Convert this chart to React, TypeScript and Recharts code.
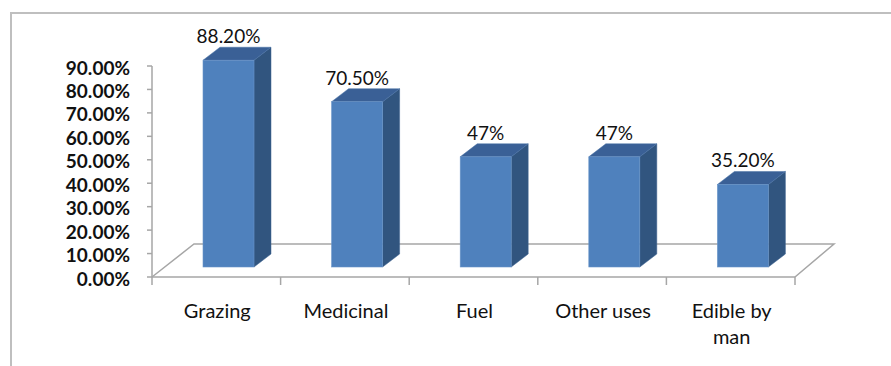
import React from "react";
import { BarChart, Bar, XAxis, YAxis, LabelList, Customized } from "recharts";

// Share of species by use
const CATEGORIES = ["Grazing", "Medicinal", "Fuel", "Other uses", "Edible by man"];
const VALUES = [0.882, 0.705, 0.47, 0.47, 0.352];
const VALUE_LABELS = ["88.20%", "70.50%", "47%", "47%", "35.20%"];
const Y_TICKS = [0, 0.1, 0.2, 0.3, 0.4, 0.5, 0.6, 0.7, 0.8, 0.9];

const W = 891;
const H = 366;
const X_AXIS_H = 30;
const MARGIN = { top: 66, right: 96, bottom: 89 - X_AXIS_H, left: 0 };
const Y_AXIS_W = 152;

// fake 3D perspective
const FLOOR_DX = 42;
const FLOOR_DY = 33;
const BAR_DX = 17;
const BAR_DY = 13;
const BAR_SHIFT_X = 12;
const BAR_SHIFT_Y = 10;

const FONT = "Lato, 'Open Sans', sans-serif";
const GRID = "#A6A6A6";

const data = CATEGORIES.map((name, i) => ({
    name,
    value: VALUES[i],
    label: VALUE_LABELS[i],
}));

const splitLabel = (s: string) => {
    if (s.length <= 11) return [s];
    const k = s.lastIndexOf(" ");
    return [s.slice(0, k), s.slice(k + 1)];
};

function Floor() {
    const left = Y_AXIS_W;
    const right = W - MARGIN.right;
    const bottom = H - MARGIN.bottom - X_AXIS_H;
    const pts = [
        [left, bottom],
        [left + FLOOR_DX, bottom - FLOOR_DY],
        [right + FLOOR_DX - 3, bottom - FLOOR_DY],
        [right, bottom],
    ];
    return (
        <polyline
            points={pts.map((p) => p.join(",")).join(" ")}
            fill="none"
            stroke={GRID}
            strokeWidth={1.5}
        />
    );
}

function Bar3D(props: any) {
    const { x, y, width, height } = props;
    const fx = x + BAR_SHIFT_X;
    const fy = y - BAR_SHIFT_Y;
    const top = `${fx},${fy} ${fx + BAR_DX},${fy - BAR_DY} ${fx + width + BAR_DX},${fy - BAR_DY} ${fx + width},${fy}`;
    const side = `${fx + width},${fy} ${fx + width + BAR_DX},${fy - BAR_DY} ${fx + width + BAR_DX},${fy + height - BAR_DY} ${fx + width},${fy + height}`;
    return (
        <g>
            <polygon points={side} fill="#31557F" stroke="#3C6290" strokeWidth={0.5} />
            <polygon points={top} fill="#3A6096" stroke="#4670A5" strokeWidth={0.5} />
            <rect x={fx} y={fy} width={width} height={height} fill="#4F81BD" stroke="#6A95C8" strokeWidth={0.6} />
        </g>
    );
}

function ValueLabel(props: any) {
    const { x, y, width, value } = props;
    return (
        <text
            x={x + BAR_SHIFT_X + width / 2}
            y={y - BAR_SHIFT_Y - 17}
            textAnchor="middle"
            fontFamily={FONT}
            fontSize={19}
            fill="#111"
        >
            {value}
        </text>
    );
}

function CategoryTick(props: any) {
    const { x, y, payload, index } = props;
    const step = (W - MARGIN.right - Y_AXIS_W) / CATEGORIES.length;
    const lines = splitLabel(payload.value);
    return (
        <g>
            <line x1={x - step / 2} y1={y} x2={x - step / 2} y2={y + 8} stroke={GRID} strokeWidth={1.5} />
            {index === CATEGORIES.length - 1 && (
                <line x1={x + step / 2} y1={y} x2={x + step / 2} y2={y + 8} stroke={GRID} strokeWidth={1.5} />
            )}
            <text x={x + 1} y={y + 41} textAnchor="middle" fontFamily={FONT} fontSize={20} fill="#111">
                {lines.map((l, i) => (
                    <tspan key={i} x={x + 1} dy={i === 0 ? 0 : 26}>
                        {l}
                    </tspan>
                ))}
            </text>
        </g>
    );
}

function ValueTick(props: any) {
    const { x, y, payload } = props;
    return (
        <text x={x} y={y + 8.5} textAnchor="end" fontFamily={FONT} fontSize={19} fontWeight="bold" fill="#111">
            {(payload.value * 100).toFixed(2)}%
        </text>
    );
}

export default function App() {
    return (
        <div style={{ position: "absolute", left: 0, top: 0, width: W, height: H, overflow: "hidden", background: "#fff" }}>
            <div
                style={{
                    position: "absolute",
                    left: 10,
                    top: 12,
                    width: 2000,
                    height: 2000,
                    border: "2px solid #BFBFBF",
                }}
            />
            <div style={{ position: "absolute", left: 0, top: 0 }}>
                <BarChart width={W} height={H} data={data} margin={MARGIN}>
                    <Customized component={Floor} />
                    <XAxis
                        dataKey="name"
                        height={X_AXIS_H}
                        axisLine={{ stroke: GRID, strokeWidth: 1.5 }}
                        tickLine={false}
                        tickSize={0}
                        tickMargin={0}
                        interval={0}
                        tick={<CategoryTick />}
                    />
                    <YAxis
                        width={Y_AXIS_W}
                        domain={[0, 0.9]}
                        ticks={Y_TICKS}
                        interval={0}
                        axisLine={{ stroke: GRID, strokeWidth: 1.5 }}
                        tickLine={{ stroke: GRID, strokeWidth: 1.5 }}
                        tickSize={5}
                        tickMargin={17}
                        tick={<ValueTick />}
                    />
                    <Bar dataKey="value" barSize={51} shape={<Bar3D />} isAnimationActive={false}>
                        <LabelList dataKey="label" content={<ValueLabel />} />
                    </Bar>
                </BarChart>
            </div>
        </div>
    );
}
